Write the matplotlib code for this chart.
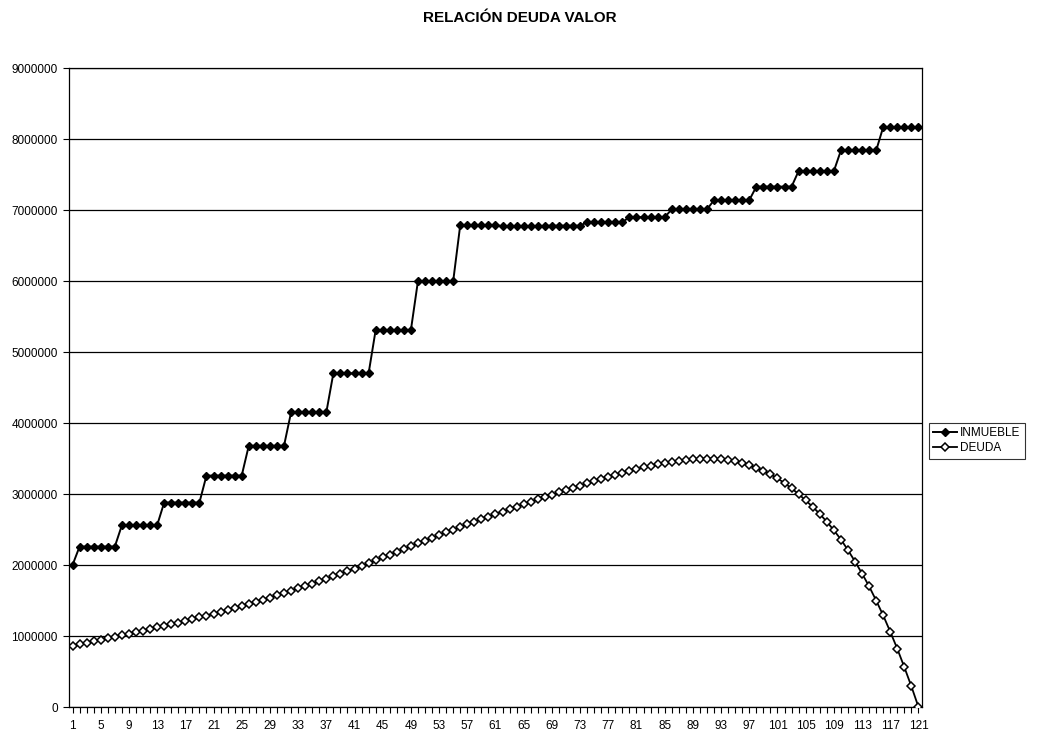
import matplotlib
matplotlib.use("Agg")
import matplotlib.pyplot as plt
import numpy as np

plt.rcParams['font.family'] = ['Liberation Sans', 'DejaVu Sans']

# periods 1..121
periods = list(range(1, 122))

# INMUEBLE (millions), 6 periods per step
inmueble_m = [2.00,
              2.26, 2.26, 2.26, 2.26, 2.26, 2.26,
              2.56, 2.56, 2.56, 2.56, 2.56, 2.56,
              2.88, 2.88, 2.88, 2.88, 2.88, 2.88,
              3.26, 3.26, 3.26, 3.26, 3.26, 3.26,
              3.68, 3.68, 3.68, 3.68, 3.68, 3.68,
              4.15, 4.15, 4.15, 4.15, 4.15, 4.15,
              4.70, 4.70, 4.70, 4.70, 4.70, 4.70,
              5.31, 5.31, 5.31, 5.31, 5.31, 5.31,
              6.00, 6.00, 6.00, 6.00, 6.00, 6.00,
              6.79, 6.79, 6.79, 6.79, 6.79, 6.79,
              6.77, 6.77, 6.77, 6.77, 6.77, 6.77,
              6.78, 6.78, 6.78, 6.78, 6.78, 6.78,
              6.83, 6.83, 6.83, 6.83, 6.83, 6.83,
              6.90, 6.90, 6.90, 6.90, 6.90, 6.90,
              7.01, 7.01, 7.01, 7.01, 7.01, 7.01,
              7.14, 7.14, 7.14, 7.14, 7.14, 7.14,
              7.33, 7.33, 7.33, 7.33, 7.33, 7.33,
              7.55, 7.55, 7.55, 7.55, 7.55, 7.55,
              7.84, 7.84, 7.84, 7.84, 7.84, 7.84,
              8.17, 8.17, 8.17, 8.17, 8.17, 8.17]

# DEUDA (millions)
deuda_m = [0.865, 0.885, 0.906, 0.927, 0.948, 0.969, 0.990, 1.011, 1.033, 1.055,
           1.077, 1.099, 1.121, 1.143, 1.166, 1.189, 1.213, 1.237, 1.262, 1.288,
           1.314, 1.341, 1.368, 1.396, 1.424, 1.453, 1.482, 1.512, 1.543, 1.575,
           1.607, 1.639, 1.672, 1.705, 1.739, 1.773, 1.808, 1.843, 1.879, 1.915,
           1.951, 1.988, 2.027, 2.067, 2.107, 2.147, 2.187, 2.227, 2.267, 2.306,
           2.345, 2.384, 2.422, 2.460, 2.498, 2.536, 2.573, 2.610, 2.646, 2.682,
           2.718, 2.753, 2.788, 2.823, 2.857, 2.891, 2.925, 2.958, 2.991, 3.023,
           3.055, 3.086, 3.117, 3.150, 3.182, 3.213, 3.243, 3.272, 3.300, 3.327,
           3.352, 3.376, 3.399, 3.420, 3.437, 3.452, 3.465, 3.477, 3.488, 3.496,
           3.500, 3.498, 3.490, 3.478, 3.460, 3.435, 3.405, 3.370, 3.330, 3.280,
           3.220, 3.155, 3.080, 3.000, 2.910, 2.820, 2.720, 2.610, 2.490, 2.360,
           2.210, 2.050, 1.880, 1.700, 1.500, 1.290, 1.060, 0.820, 0.560, 0.290,
           0.000]

inmueble = np.array(inmueble_m) * 1e6
deuda = np.array(deuda_m) * 1e6

fig = plt.figure(figsize=(10.39, 7.35), dpi=100)
ax = fig.add_axes([0.0664, 0.038, 0.821, 0.8694])

ax.plot(periods, inmueble, color="black", lw=1.4, marker="D", ms=4.5,
        mfc="black", mec="black", label="INMUEBLE", zorder=3)
ax.plot(periods, deuda, color="black", lw=1.3, marker="D", ms=4.3,
        mfc="white", mec="black", mew=1.1, label="DEUDA", zorder=3)

ax.set_xlim(0.5, 121.5)
ax.set_ylim(0, 9000000)
ax.set_yticks(np.arange(0, 9000001, 1000000))
ax.set_yticklabels([str(v) for v in range(0, 9000001, 1000000)], fontsize=8.5)
ax.set_xticks(periods)
ax.set_xticklabels([str(p) if (p - 1) % 4 == 0 else "" for p in periods], fontsize=8.5)
ax.tick_params(axis="x", length=4, width=0.8, direction="out", pad=5)
ax.tick_params(axis="y", length=4, width=0.8, direction="out", pad=4)

ax.yaxis.grid(True, color="black", lw=0.9)
ax.set_axisbelow(True)
for s in ax.spines.values():
    s.set_color("black")
    s.set_linewidth(0.9)

fig.text(0.5, 0.975, "RELACIÓN DEUDA VALOR", ha="center", va="center",
         fontsize=11, fontweight="bold")

leg = fig.legend(loc="upper left", bbox_to_anchor=(0.894, 0.424), fontsize=8.5,
                 frameon=True, fancybox=False, edgecolor="black",
                 handlelength=2.0, borderpad=0.35, labelspacing=0.25,
                 handletextpad=0.3, borderaxespad=0)
leg.get_frame().set_linewidth(0.8)

fig.savefig("out.png", dpi=100)
